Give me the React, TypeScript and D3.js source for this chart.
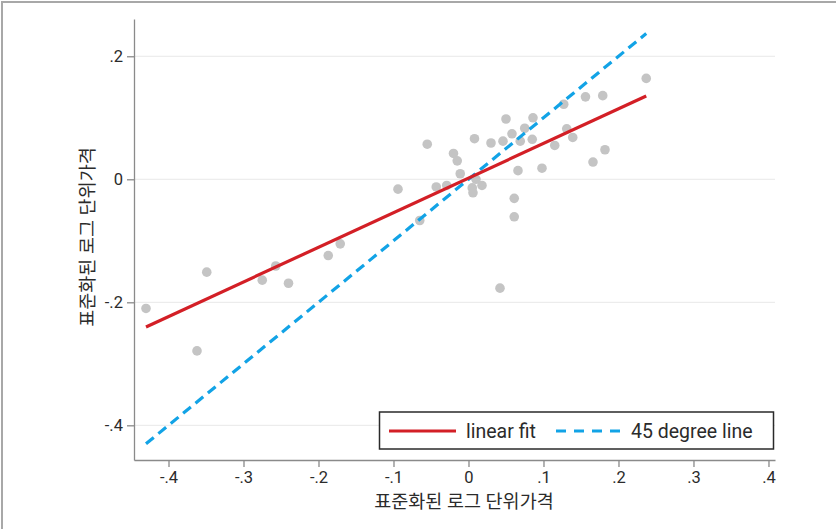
import React, { useEffect, useRef } from 'react';
import * as d3 from 'd3';

// standardized log unit price, one entry per market
const xValues = [
  -0.430, -0.362, -0.349, -0.275, -0.257, -0.240, -0.187, -0.171,
  -0.094, -0.065, -0.055, -0.043, -0.029, -0.020, -0.015, -0.011, 0.010, 0.005, 0.018, 0.006,
  0.008, 0.030, 0.046, 0.050, 0.058, 0.069, 0.075, 0.085, 0.086, 0.061, 0.061, 0.042, 0.066,
  0.098, 0.115, 0.127, 0.131, 0.139, 0.156, 0.179, 0.166, 0.182, 0.237,
];
const yValues = [
  -0.210, -0.279, -0.151, -0.164, -0.141, -0.169, -0.124, -0.105,
  -0.016, -0.067, 0.057, -0.0125, -0.010, 0.042, 0.030, 0.009, 0.000, -0.014, -0.010, -0.022,
  0.066, 0.059, 0.062, 0.098, 0.074, 0.062, 0.083, 0.065, 0.100, -0.031, -0.061, -0.177, 0.014,
  0.018, 0.055, 0.122, 0.082, 0.068, 0.134, 0.136, 0.028, 0.048, 0.164,
];

// linear fit: y = a + b x
const fitIntercept = 0.002;
const fitSlope = 0.563;

const xTicks = [-0.4, -0.3, -0.2, -0.1, 0, 0.1, 0.2, 0.3, 0.4];
const xTickLabels = ['-.4', '-.3', '-.2', '-.1', '0', '.1', '.2', '.3', '.4'];
const yTicks = [-0.4, -0.2, 0, 0.2];
const yTickLabels = ['-.4', '-.2', '0', '.2'];

const axisTitle = '표준화된 로그 단위가격';
const legendLabels = ['linear fit', '45 degree line'];

const WIDTH = 836;
const HEIGHT = 529;
const FONT = "Roboto, 'Noto Sans CJK KR', sans-serif";
const RED = '#d31f26';
const BLUE = '#12a3e6';

export default function App() {
  const ref = useRef<SVGSVGElement>(null);

  useEffect(() => {
    const svg = d3.select(ref.current);
    svg.selectAll('*').remove();

    const left = 134, right = 775, top = 19, bottom = 460;

    const x = d3.scaleLinear().domain([-0.446, 0.4087]).range([left, right]);
    const y = d3.scaleLinear().domain([-0.4564, 0.2606]).range([bottom, top]);

    // frame around the figure
    svg.append('rect')
      .attr('x', 2).attr('y', 2)
      .attr('width', WIDTH).attr('height', HEIGHT)
      .attr('fill', 'white')
      .attr('stroke', '#a8a8a8')
      .attr('stroke-width', 2);

    // gridlines
    svg.append('g')
      .selectAll('line')
      .data(yTicks)
      .enter().append('line')
      .attr('x1', left).attr('x2', right)
      .attr('y1', d => y(d)).attr('y2', d => y(d))
      .attr('stroke', '#e8e8e8')
      .attr('stroke-width', 1);

    const xAxis = d3.axisBottom(x)
      .tickValues(xTicks)
      .tickFormat((d, i) => xTickLabels[i])
      .tickSizeInner(7)
      .tickSizeOuter(0)
      .tickPadding(4);

    const yAxis = d3.axisLeft(y)
      .tickValues(yTicks)
      .tickFormat((d, i) => yTickLabels[i])
      .tickSizeInner(7)
      .tickSizeOuter(0)
      .tickPadding(4);

    const gx = svg.append('g')
      .attr('transform', 'translate(0,' + bottom + ')')
      .call(xAxis);
    const gy = svg.append('g')
      .attr('transform', 'translate(' + left + ',0)')
      .call(yAxis);

    [gx, gy].forEach(g => {
      g.select('.domain').attr('stroke', '#8a8a8a').attr('stroke-width', 1.3);
      g.selectAll('.tick line').attr('stroke', '#8a8a8a').attr('stroke-width', 1.3);
      g.selectAll('.tick text')
        .attr('fill', '#2b2b2b')
        .style('font-family', FONT)
        .style('font-size', '16.5px');
    });

    // points
    svg.append('g')
      .selectAll('circle')
      .data(xValues.map((v, i) => ({ x: v, y: yValues[i] })))
      .enter().append('circle')
      .attr('cx', d => x(d.x))
      .attr('cy', d => y(d.y))
      .attr('r', 4.8)
      .attr('fill', '#c4c4c4');

    // both lines run over the range of the data
    const ext = d3.extent(xValues) as [number, number];
    const line = d3.line<number>().x(d => x(d));

    svg.append('path')
      .datum(ext)
      .attr('d', line.y(d => y(d)))
      .attr('fill', 'none')
      .attr('stroke', BLUE)
      .attr('stroke-width', 3.2)
      .attr('stroke-dasharray', '10,6');

    svg.append('path')
      .datum(ext)
      .attr('d', line.y(d => y(fitIntercept + fitSlope * d)))
      .attr('fill', 'none')
      .attr('stroke', RED)
      .attr('stroke-width', 3.2);

    // legend
    const lg = svg.append('g');
    lg.append('rect')
      .attr('x', 379.5).attr('y', 412)
      .attr('width', 394).attr('height', 37)
      .attr('fill', 'white')
      .attr('stroke', '#2a2a2a')
      .attr('stroke-width', 1.5);
    lg.append('line')
      .attr('x1', 389).attr('x2', 456).attr('y1', 431).attr('y2', 431)
      .attr('stroke', RED).attr('stroke-width', 3.2);
    lg.append('line')
      .attr('x1', 556).attr('x2', 622).attr('y1', 431).attr('y2', 431)
      .attr('stroke', BLUE).attr('stroke-width', 3.2)
      .attr('stroke-dasharray', '10,8');
    lg.selectAll('text')
      .data(legendLabels)
      .enter().append('text')
      .attr('x', (d, i) => (i === 0 ? 466 : 631))
      .attr('y', 431)
      .attr('dy', '0.35em')
      .attr('fill', '#2b2b2b')
      .style('font-family', FONT)
      .style('font-size', '19.5px')
      .text(d => d);

    // axis titles
    svg.append('text')
      .attr('x', 464).attr('y', 502)
      .attr('dy', '0.35em')
      .attr('text-anchor', 'middle')
      .attr('fill', '#2b2b2b')
      .style('font-family', FONT)
      .style('font-size', '18.5px')
      .text(axisTitle);

    svg.append('text')
      .attr('transform', 'translate(88,237) rotate(-90)')
      .attr('dy', '0.35em')
      .attr('text-anchor', 'middle')
      .attr('fill', '#2b2b2b')
      .style('font-family', FONT)
      .style('font-size', '18.5px')
      .text(axisTitle);
  }, []);

  return (
    <svg
      ref={ref}
      width={WIDTH}
      height={HEIGHT}
      style={{ position: 'absolute', left: 0, top: 0, background: 'white' }}
    />
  );
}
